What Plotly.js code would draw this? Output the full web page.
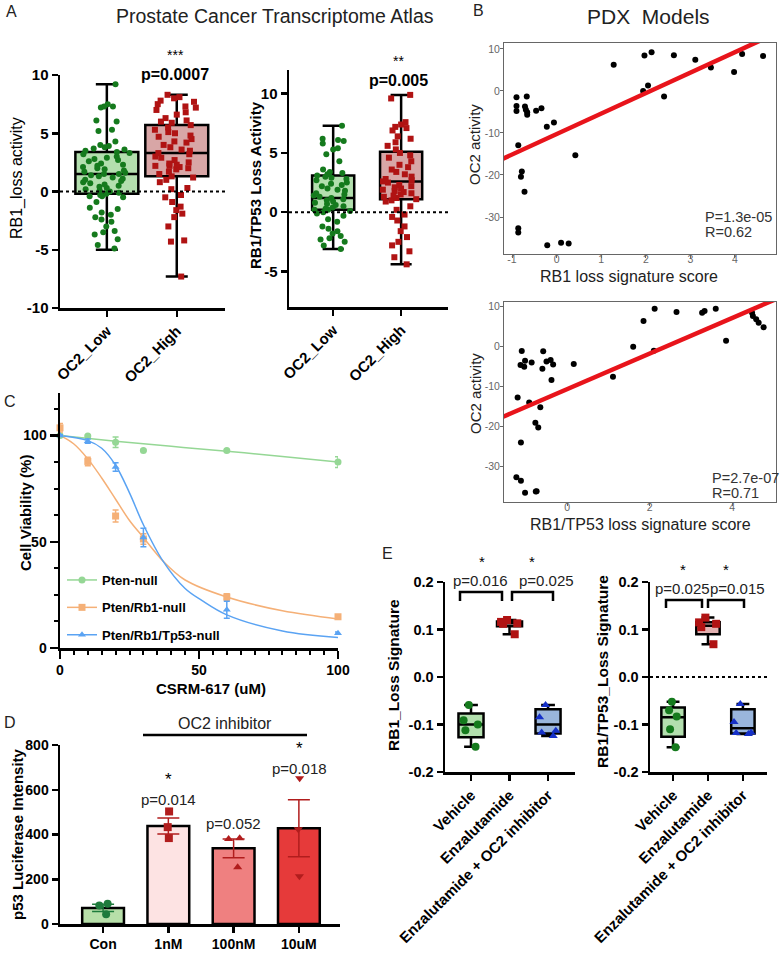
<!DOCTYPE html>
<html><head><meta charset="utf-8">
<script src="https://cdn.plot.ly/plotly-3.0.1.min.js"></script>
<style>html,body{margin:0;padding:0;background:#fff}</style>
</head><body><div id="chart" style="width:782px;height:953px"></div>
<script>
// ---------------- DATA ----------------
// Panel A (Prostate Cancer Transcriptome Atlas)
const groupsA = ['OC2_Low', 'OC2_High'];
const rb1Low = [9.2, 7.5, 7.3, 7.3, 7.2, 6.1, 6.0, 5.3, 5.2, 4.3, 4.0, 3.9, 3.8, 3.7, 3.6, 3.5, 3.4, 3.3, 3.2, 3.0, 2.9, 2.8, 2.7, 2.6, 2.4, 2.3, 2.2, 2.1, 2.0, 1.9, 1.8, 1.7, 1.6, 1.5, 1.5, 1.4, 1.3, 1.2, 1.1, 1.0, 0.9, 0.8, 0.7, 0.6, 0.5, 0.4, 0.3, 0.2, 0.1, 0.0, -0.1, -0.2, -0.3, -0.4, -0.4, -0.5, -0.9, -1.4, -1.5, -1.8, -2.0, -2.2, -2.4, -2.6, -3.0, -3.4, -3.5, -3.7, -4.1, -4.6, -4.9];
const rb1High = [8.3, 8.1, 8.0, 7.8, 7.7, 7.5, 7.3, 7.2, 7.0, 6.8, 6.6, 6.3, 6.1, 6.0, 5.9, 5.7, 5.5, 5.3, 5.1, 5.0, 4.8, 4.7, 4.5, 4.3, 4.2, 4.0, 3.8, 3.6, 3.5, 3.3, 3.2, 3.0, 2.9, 2.7, 2.5, 2.4, 2.3, 2.2, 2.2, 2.1, 2.0, 1.9, 1.7, 1.5, 1.3, 1.2, 1.0, 0.8, 0.3, 0.2, -0.3, -0.5, -0.9, -1.3, -1.6, -1.9, -2.2, -3.0, -4.2, -4.3, -7.3];
const rb1Q1 = [-0.2, 1.3], rb1Med = [1.5, 3.3], rb1Q3 = [3.4, 5.7], rb1Min = [-5.0, -7.3], rb1Max = [9.2, 8.3];
const tpLow = [7.3, 6.2, 6.1, 6.0, 5.8, 5.4, 5.3, 4.9, 4.3, 3.6, 3.4, 3.3, 3.2, 3.1, 3.0, 2.9, 2.8, 2.7, 2.5, 2.4, 2.3, 2.2, 2.0, 1.9, 1.8, 1.6, 1.5, 1.4, 1.3, 1.2, 1.1, 1.0, 0.9, 0.8, 0.7, 0.6, 0.5, 0.4, 0.3, 0.2, 0.2, 0.1, 0.0, -0.1, -0.3, -0.6, -0.8, -1.2, -1.4, -1.6, -1.8, -2.0, -2.2, -2.3, -2.5, -2.8, -3.1];
const tpHigh = [9.9, 9.6, 7.6, 7.4, 7.2, 7.1, 6.9, 6.4, 6.2, 5.9, 5.6, 5.3, 5.0, 4.8, 4.6, 4.3, 4.0, 3.8, 3.6, 3.4, 3.2, 3.0, 2.8, 2.7, 2.6, 2.5, 2.3, 2.2, 2.1, 2.0, 1.9, 1.8, 1.7, 1.6, 1.5, 1.4, 1.3, 1.2, 1.1, 1.0, 0.9, 0.5, 0.2, -0.2, -0.4, -0.7, -1.2, -1.6, -2.1, -2.5, -2.8, -3.3, -3.8, -4.4];
const tpQ1 = [0.2, 1.1], tpMed = [1.2, 2.6], tpQ3 = [3.1, 5.1], tpMin = [-3.1, -4.4], tpMax = [7.3, 9.9];

// Panel B (PDX models)
const pdxRb1X = [-0.90, -0.67, -0.90, -0.90, -0.71, -0.69, -0.66, -0.66, -0.46, -0.34, -0.22, -0.06, -0.86, -0.78, -0.80, -0.72, -0.86, -0.86, -0.21, 0.10, 0.27, 0.42, 1.28, 1.97, 2.13, 1.94, 2.05, 2.41, 2.63, 3.11, 3.46, 3.98, 4.16, 4.63];
const pdxRb1Y = [-1.5, -1.3, -3.6, -4.8, -3.7, -4.5, -5.7, -5.1, -4.7, -4.1, -8.5, -7.5, -12.9, -19.2, -20.4, -24.0, -32.7, -33.7, -36.7, -36.1, -36.3, -15.3, 6.2, 8.4, 9.2, 0.0, 1.3, -1.3, 8.5, 7.4, 5.6, 4.5, 8.8, 8.3];
const fitRb1X = [-1.3, 4.9], fitRb1Y = [-16.6, 13.6];
const pdxTpX = [-1.20, -1.10, -1.13, -1.04, -1.02, -0.86, -1.12, -1.23, -1.12, -1.02, -0.76, -0.74, -0.92, -0.77, -0.70, -0.65, -0.60, -0.58, -0.50, -0.40, -0.34, -0.38, 0.16, 1.11, 1.60, 1.85, 2.10, 2.12, 2.65, 3.27, 3.33, 3.60, 3.85, 4.48, 4.50, 4.58, 4.64, 4.76];
const pdxTpY = [-12.9, -1.25, -4.75, -5.2, -3.7, -4.1, -24.1, -32.8, -33.7, -36.7, -36.4, -36.3, -14.1, -19.2, -20.4, -15.3, -5.7, -1.3, -3.9, -3.5, -4.6, -8.5, -4.5, -7.7, -0.2, 6.25, -1.2, 9.3, 8.5, 8.3, 8.75, 9.3, 1.3, 8.3, 7.5, 6.7, 5.8, 4.7];
const fitTpX = [-1.6, 5.1], fitTpY = [-17.9, 11.9];

// Panel C (cell viability)
const doseX = [0, 10, 20, 30, 60, 100];
const ptenY = [100, 99.8, 96.8, 93.0, 92.9, 87.5], ptenErr = [0.5, 0.3, 2.5, 0.4, 0.4, 2.5];
const rb1NullY = [103.6, 87.8, 62.1, 51.3, 24.0, 14.7], rb1NullErr = [2.0, 2.0, 2.8, 2.5, 1.5, 0.8];
const tp53NullY = [100, 97.3, 85.2, 52.0, 18.0, 7.0], tp53NullErr = [0.4, 1.0, 2.0, 4.3, 4.0, 0.5];
const ptenCurveX = [0, 20, 40, 60, 80, 100], ptenCurveY = [100, 97.3, 94.9, 92.6, 90.1, 87.5];
const rb1CurveX = [0, 5, 10, 15, 20, 25, 30, 37, 45, 60, 80, 100], rb1CurveY = [100, 96, 89, 80, 70, 60, 52, 41, 32, 24, 17.5, 13.7];
const tp53CurveX = [0, 10, 15, 20, 25, 30, 37, 45, 51, 60, 80, 100], tp53CurveY = [100, 97.6, 94, 86, 73, 58, 41, 28, 22.4, 15.6, 8, 4.9];
const seriesC = ['Pten-null', 'Pten/Rb1-null', 'Pten/Rb1/Tp53-null'];

// Panel D (p53 luciferase)
const lucCats = ['Con', '1nM', '100nM', '10uM'];
const lucMean = [72, 438, 338, 428];
const lucSem = [16, 36, 42, 127];
const lucCon = [91, 83, 44], luc1nM = [503, 433, 384], luc100nM = [383, 380, 254], luc10uM = [651, 424, 213];

// Panel E (signatures)
const eCats = ['Vehicle', 'Enzalutamide', 'Enzalutamide + OC2 inhibitor'];
const eRb1Veh = [-0.059, -0.091, -0.100, -0.112, -0.147];
const eRb1Enz = [0.120, 0.116, 0.113, 0.112, 0.090];
const eRb1Combo = [-0.059, -0.085, -0.113, -0.117, -0.124];
const eRb1Q1 = [-0.127, 0.107, -0.119], eRb1Med = [-0.100, 0.113, -0.100], eRb1Q3 = [-0.077, 0.117, -0.068], eRb1Min = [-0.147, 0.090, -0.124], eRb1Max = [-0.059, 0.120, -0.059];
const eTpVeh = [-0.052, -0.070, -0.083, -0.110, -0.148];
const eTpEnz = [0.125, 0.115, 0.112, 0.105, 0.069];
const eTpCombo = [-0.057, -0.095, -0.117, -0.118, -0.120];
const eTpQ1 = [-0.126, 0.090, -0.119], eTpMed = [-0.085, 0.108, -0.108], eTpQ3 = [-0.064, 0.115, -0.068], eTpMin = [-0.148, 0.069, -0.120], eTpMax = [-0.052, 0.125, -0.057];

// ---------------- HELPERS ----------------
const W = 782, H = 953;
const F = 'Arial, "Liberation Sans", sans-serif';
const px = v => v / W, py = v => 1 - v / H;
const domX = (a, b) => [a / W, b / W];
const domY = (top, bot) => [1 - bot / H, 1 - top / H];
const hy = vals => vals.map(v => String(v));

function gp(extra) {
  return Object.assign({
    showline: true, linecolor: '#000', linewidth: 2.5, ticks: 'outside', ticklen: 6, tickwidth: 2.5, tickcolor: '#000',
    showgrid: false, zeroline: false, fixedrange: true,
    tickfont: {family: F, size: 14, color: '#000', weight: 700}
  }, extra);
}
function rb(extra) {
  return Object.assign({
    showline: true, mirror: true, linecolor: '#666', linewidth: 1, ticks: 'outside', ticklen: 3, tickwidth: 1, tickcolor: '#666',
    showgrid: false, zeroline: false, fixedrange: true,
    tickfont: {family: F, size: 10.5, color: '#666'}
  }, extra);
}
function statBox(xa, ya, cat, i, s, fill, width, ww) {
  return {type: 'box', xaxis: xa, yaxis: ya, x: [cat], q1: [s.q1[i]], median: [s.med[i]], q3: [s.q3[i]],
    lowerfence: [s.min[i]], upperfence: [s.max[i]], fillcolor: fill, line: {color: '#000', width: 2.5},
    width: width, whiskerwidth: ww, boxpoints: false, showlegend: false, hoverinfo: 'skip'};
}
function ptsBox(xa, ya, cat, vals, color, symbol, size, width, jitter) {
  return {type: 'box', xaxis: xa, yaxis: ya, x: vals.map(() => cat), y: vals, boxpoints: 'all', jitter: jitter, pointpos: 0,
    width: width, fillcolor: 'rgba(0,0,0,0)', line: {width: 0, color: 'rgba(0,0,0,0)'},
    marker: {color: color, symbol: symbol, size: size}, showlegend: false, hoverinfo: 'skip'};
}

const GREEN_FILL = '#b3dfae', GREEN_DOT = '#157a1d';
const RED_FILL = '#d8a6a6', RED_DOT = '#b01313';
const BLUE_FILL = '#9ab6dc', BLUE_DOT = '#1530c8';

const sRb1 = {q1: rb1Q1, med: rb1Med, q3: rb1Q3, min: rb1Min, max: rb1Max};
const sTp = {q1: tpQ1, med: tpMed, q3: tpQ3, min: tpMin, max: tpMax};
const sE1 = {q1: eRb1Q1, med: eRb1Med, q3: eRb1Q3, min: eRb1Min, max: eRb1Max};
const sE2 = {q1: eTpQ1, med: eTpMed, q3: eTpQ3, min: eTpMin, max: eTpMax};

const traces = [];
// ---- A ----
traces.push(statBox('x', 'y', groupsA[0], 0, sRb1, GREEN_FILL, 0.9, 0.35));
traces.push(statBox('x', 'y', groupsA[1], 1, sRb1, RED_FILL, 0.9, 0.35));
traces.push(ptsBox('x', 'y', groupsA[0], rb1Low, GREEN_DOT, 'circle', 6, 0.9, 0.85));
traces.push(ptsBox('x', 'y', groupsA[1], rb1High, RED_DOT, 'square', 6, 0.9, 0.85));
traces.push(statBox('x2', 'y2', groupsA[0], 0, sTp, GREEN_FILL, 0.62, 0.5));
traces.push(statBox('x2', 'y2', groupsA[1], 1, sTp, RED_FILL, 0.62, 0.5));
traces.push(ptsBox('x2', 'y2', groupsA[0], tpLow, GREEN_DOT, 'circle', 6, 0.75, 0.9));
traces.push(ptsBox('x2', 'y2', groupsA[1], tpHigh, RED_DOT, 'square', 6, 0.75, 0.9));

// ---- B ----
traces.push({type: 'scatter', mode: 'markers', x: pdxRb1X, y: pdxRb1Y, xaxis: 'x3', yaxis: 'y3', marker: {color: '#000', size: 6}, showlegend: false, hoverinfo: 'skip'});
traces.push({type: 'scatter', mode: 'lines', x: fitRb1X, y: fitRb1Y, xaxis: 'x3', yaxis: 'y3', line: {color: '#e8141b', width: 4.5}, showlegend: false, hoverinfo: 'skip'});
traces.push({type: 'scatter', mode: 'markers', x: pdxTpX, y: pdxTpY, xaxis: 'x4', yaxis: 'y4', marker: {color: '#000', size: 6}, showlegend: false, hoverinfo: 'skip'});
traces.push({type: 'scatter', mode: 'lines', x: fitTpX, y: fitTpY, xaxis: 'x4', yaxis: 'y4', line: {color: '#e8141b', width: 4.5}, showlegend: false, hoverinfo: 'skip'});

// ---- C ----
const cCol = ['#95d795', '#f5b077', '#5aa3f3'];
const cSym = ['circle', 'square', 'triangle-up'];
const cY = [ptenY, rb1NullY, tp53NullY], cE = [ptenErr, rb1NullErr, tp53NullErr];
const cCX = [ptenCurveX, rb1CurveX, tp53CurveX], cCY = [ptenCurveY, rb1CurveY, tp53CurveY];
for (let i = 0; i < 3; i++) {
  traces.push({type: 'scatter', mode: 'lines', x: cCX[i], y: cCY[i], xaxis: 'x5', yaxis: 'y5', line: {color: cCol[i], width: 1.5, shape: 'spline'}, showlegend: false, hoverinfo: 'skip'});
}
for (let i = 0; i < 3; i++) {
  traces.push({type: 'scatter', mode: 'markers', x: doseX, y: cY[i], xaxis: 'x5', yaxis: 'y5', cliponaxis: false,
    marker: {color: cCol[i], size: 7, symbol: cSym[i]},
    error_y: {type: 'data', array: cE[i], color: cCol[i], thickness: 1.5, width: 3}, showlegend: false, hoverinfo: 'skip'});
}
for (let i = 0; i < 3; i++) {
  traces.push({type: 'scatter', mode: 'lines+markers', x: [null], y: [null], xaxis: 'x5', yaxis: 'y5', name: seriesC[i], legendgroup: 'g' + i,
    line: {color: cCol[i], width: 1.5}, marker: {color: cCol[i], size: 7, symbol: cSym[i]}, showlegend: true});
}

// ---- D ----
traces.push({type: 'bar', x: [lucCats[0]], y: [lucMean[0]], xaxis: 'x6', yaxis: 'y6', width: 0.64,
  marker: {color: '#b7dfa9', line: {color: '#000', width: 2.5}},
  error_y: {type: 'data', array: [lucSem[0]], color: '#1e7b3c', thickness: 1.5, width: 11}, showlegend: false, hoverinfo: 'skip'});
traces.push({type: 'bar', x: lucCats.slice(1), y: lucMean.slice(1), xaxis: 'x6', yaxis: 'y6', width: 0.64,
  marker: {color: ['#fde3e3', '#ef8080', '#e63a3a'], line: {color: '#000', width: 2.5}},
  error_y: {type: 'data', array: lucSem.slice(1), color: '#b11d1d', thickness: 1.5, width: 11}, showlegend: false, hoverinfo: 'skip'});
traces.push(ptsBox('x6', 'y6', lucCats[0], lucCon, '#1e7b3c', 'circle', 8, 0.3, 0.6));
traces.push(ptsBox('x6', 'y6', lucCats[1], luc1nM, '#b11d1d', 'square', 8, 0.3, 0.1));
traces.push(ptsBox('x6', 'y6', lucCats[2], luc100nM, '#b11d1d', 'triangle-up', 8, 0.3, 0.8));
traces.push(ptsBox('x6', 'y6', lucCats[3], luc10uM, '#b11d1d', 'triangle-down', 8, 0.3, 0.1));

// ---- E ----
const eFill = [GREEN_FILL, '#e3b2b2', BLUE_FILL];
for (let i = 0; i < 3; i++) traces.push(statBox('x7', 'y7', eCats[i], i, sE1, eFill[i], 0.65, 0.55));
traces.push(ptsBox('x7', 'y7', eCats[0], eRb1Veh, GREEN_DOT, 'circle', 8, 0.65, 0.7));
traces.push(ptsBox('x7', 'y7', eCats[1], eRb1Enz, RED_DOT, 'square', 8, 0.65, 0.8));
traces.push(ptsBox('x7', 'y7', eCats[2], eRb1Combo, BLUE_DOT, 'triangle-up', 8, 0.65, 0.8));
for (let i = 0; i < 3; i++) traces.push(statBox('x8', 'y8', eCats[i], i, sE2, eFill[i], 0.67, 0.55));
traces.push(ptsBox('x8', 'y8', eCats[0], eTpVeh, GREEN_DOT, 'circle', 8, 0.67, 0.4));
traces.push(ptsBox('x8', 'y8', eCats[1], eTpEnz, RED_DOT, 'square', 8, 0.67, 0.9));
traces.push(ptsBox('x8', 'y8', eCats[2], eTpCombo, BLUE_DOT, 'triangle-up', 8, 0.67, 0.9));

// ---------------- LAYOUT ----------------
const ann = [];
function T(text, x, y, o) {
  ann.push(Object.assign({text: text, x: px(x), y: py(y), xref: 'paper', yref: 'paper', showarrow: false,
    xanchor: 'center', yanchor: 'middle', font: {family: F, size: 14, color: '#222'}}, o || {}));
}
const B = (s) => ({family: F, size: s, color: '#000', weight: 700});
const N = (s, c) => ({family: F, size: s, color: c || '#222'});

// panel letters & titles
T('A', 11, 12, {font: N(16)});
T('B', 478, 11, {font: N(16)});
T('C', 10, 401, {font: N(16)});
T('D', 10, 722, {font: N(16)});
T('E', 387, 553, {font: N(16)});
T('Prostate Cancer Transcriptome Atlas', 275, 16, {font: N(19.5)});
T('PDX\u00a0 Models', 648, 16, {font: N(21)});
// A
T('RB1_loss activity', 17, 178, {textangle: -90, font: N(16, '#000')});
T('RB1/TP53 Loss Activity', 256, 185, {textangle: -90, font: B(15)});
T('***', 175, 55, {font: N(14, '#000')});
T('p=0.0007', 175, 75, {font: B(16)});
T('**', 399, 61, {font: N(14, '#000')});
T('p=0.005', 399, 81, {font: B(16)});
// B
T('OC2 activity', 475, 144, {textangle: -90, font: N(15)});
T('RB1 loss signature score', 629, 276, {font: N(16)});
T('P=1.3e-05', 703, 217, {xanchor: 'left', font: N(14.5, '#333')});
T('R=0.62', 703, 232, {xanchor: 'left', font: N(14.5, '#333')});
T('OC2 activity', 475, 393, {textangle: -90, font: N(15)});
T('RB1/TP53 loss signature score', 640, 524, {font: N(16)});
T('P=2.7e-07', 710, 478, {xanchor: 'left', font: N(14.5, '#333')});
T('R=0.71', 710, 493, {xanchor: 'left', font: N(14.5, '#333')});
// C
T('Cell Viability (%)', 25, 513, {textangle: -90, font: B(15)});
T('CSRM-617 (uM)', 211, 688, {font: B(15)});
// D
T('p53 Luciferase Intensity', 17, 834, {textangle: -90, font: B(15)});
T('OC2 inhibitor', 225, 723, {font: N(16)});
T('*', 168, 779, {font: N(17, '#000')});
T('p=0.014', 168, 799, {font: N(15)});
T('p=0.052', 233, 823, {font: N(15)});
T('*', 299, 748, {font: N(17, '#000')});
T('p=0.018', 299, 768, {font: N(15)});
// E
T('RB1_Loss Signature', 393, 675, {textangle: -90, font: B(15.5)});
T('RB1/TP53_Loss Signature', 602, 672, {textangle: -90, font: B(15.5)});
T('*', 482, 561, {font: N(15, '#000')});
T('*', 532, 561, {font: N(15, '#000')});
T('p=0.016', 480, 580, {font: N(15)});
T('p=0.025', 546, 580, {font: N(15)});
T('*', 683, 569, {font: N(15, '#000')});
T('*', 726, 569, {font: N(15, '#000')});
T('p=0.025', 682, 588, {font: N(15)});
T('p=0.015', 737, 588, {font: N(15)});

const shapes = [];
function bracket(x0, x1, top, leg) {
  shapes.push({type: 'path', xref: 'paper', yref: 'paper',
    path: `M ${px(x0)},${py(leg)} L ${px(x0)},${py(top)} L ${px(x1)},${py(top)} L ${px(x1)},${py(leg)}`,
    line: {color: '#000', width: 2.5}});
}
bracket(460, 502, 592, 601);
bracket(512, 553, 592, 601);
bracket(666, 702, 600, 608);
bracket(708, 744, 600, 608);
shapes.push({type: 'line', xref: 'paper', yref: 'paper', x0: px(143), x1: px(307), y0: py(735), y1: py(735), line: {color: '#000', width: 2.5}});
// dotted zero lines
[['x', 'y'], ['x2', 'y2'], ['x8', 'y8']].forEach(([xa, ya]) => {
  shapes.push({type: 'line', xref: xa + ' domain', yref: ya, x0: 0, x1: 1, y0: 0, y1: 0, line: {color: '#000', width: 2, dash: 'dot'}});
});

const aTicks = [-10, -5, 0, 5, 10];
const eTicks = [-0.2, -0.1, 0, 0.1, 0.2];
const layout = {
  width: W, height: H, margin: {l: 0, r: 0, t: 0, b: 0}, paper_bgcolor: '#fff', plot_bgcolor: 'rgba(0,0,0,0)',
  font: {family: F}, boxmode: 'overlay', barmode: 'overlay', showlegend: true, hovermode: false,
  legend: {x: px(62), y: py(565), xanchor: 'left', yanchor: 'top', bgcolor: 'rgba(0,0,0,0)', traceorder: 'grouped', tracegroupgap: 7.5,
    font: {family: F, size: 13, color: '#000', weight: 700}},
  // A1
  xaxis: gp({domain: domX(60, 225), anchor: 'y', type: 'category', categoryorder: 'array', categoryarray: groupsA, range: [-0.67, 1.69], tickangle: -45, tickfont: B(15)}),
  yaxis: gp({domain: domY(75, 308), anchor: 'x', range: [-10, 10], tickvals: aTicks, ticktext: hy(aTicks), tickfont: B(15)}),
  // A2
  xaxis2: gp({domain: domX(289, 448), anchor: 'y2', type: 'category', categoryorder: 'array', categoryarray: groupsA, range: [-0.65, 1.69], tickangle: -45, tickfont: B(15)}),
  yaxis2: gp({domain: domY(70, 307), anchor: 'x2', range: [-8, 12], tickvals: [-5, 0, 5, 10], ticktext: hy([-5, 0, 5, 10]), tickfont: B(15)}),
  // B1
  xaxis3: rb({domain: domX(504, 776), anchor: 'y3', range: [-1.18, 4.92], tickvals: [-1, 0, 1, 2, 3, 4], ticktext: hy([-1, 0, 1, 2, 3, 4]), ticklabelstandoff: -8}),
  yaxis3: rb({domain: domY(43, 254), anchor: 'x3', range: [-38.8, 11.4], tickvals: [-30, -20, -10, 0, 10], ticktext: hy([-30, -20, -10, 0, 10]), ticklabelstandoff: -2}),
  // B2
  xaxis4: rb({domain: domX(504, 776), anchor: 'y4', range: [-1.53, 5.06], tickvals: [0, 2, 4], ticktext: hy([0, 2, 4]), ticklabelstandoff: -8}),
  yaxis4: rb({domain: domY(302, 502), anchor: 'x4', range: [-39, 11], tickvals: [-30, -20, -10, 0, 10], ticktext: hy([-30, -20, -10, 0, 10]), ticklabelstandoff: -2}),
  // C
  xaxis5: gp({domain: domX(60, 338), anchor: 'y5', range: [0, 100], tickvals: [0, 50, 100], ticklen: 8, tickfont: B(14),
    minor: {tickvals: [5,10,15,20,25,30,35,40,45,55,60,65,70,75,80,85,90,95], ticklen: 4, tickwidth: 2, tickcolor: '#000', ticks: 'outside'}}),
  yaxis5: gp({domain: domY(393, 648), anchor: 'x5', range: [0, 120], tickvals: [0, 50, 100], ticklen: 8, tickfont: B(14),
    minor: {tickvals: [12.5, 25, 37.5, 62.5, 75, 87.5, 112.5], ticklen: 4, tickwidth: 2, tickcolor: '#000', ticks: 'outside'}}),
  // D
  xaxis6: gp({domain: domX(60, 340), anchor: 'y6', type: 'category', categoryorder: 'array', categoryarray: lucCats, range: [-0.66, 3.63], tickfont: B(14)}),
  yaxis6: gp({domain: domY(745, 924), anchor: 'x6', range: [0, 800], dtick: 200, tickfont: B(14)}),
  // E1
  xaxis7: gp({domain: domX(445, 575), anchor: 'y7', type: 'category', categoryorder: 'array', categoryarray: eCats, range: [-0.675, 2.7], tickangle: -45, tickfont: B(15)}),
  yaxis7: gp({domain: domY(582, 772), anchor: 'x7', range: [-0.2, 0.2], tickvals: eTicks, ticktext: eTicks.map(v => v.toFixed(1)), tickfont: B(14.5)}),
  // E2
  xaxis8: gp({domain: domX(650, 767), anchor: 'y8', type: 'category', categoryorder: 'array', categoryarray: eCats, range: [-0.66, 2.69], tickangle: -45, tickfont: B(15)}),
  yaxis8: gp({domain: domY(582, 772), anchor: 'x8', range: [-0.2, 0.2], tickvals: eTicks, ticktext: eTicks.map(v => v.toFixed(1)), tickfont: B(14.5)}),
  annotations: ann, shapes: shapes
};
Plotly.newPlot('chart', traces, layout, {staticPlot: true, displayModeBar: false});
</script></body></html>
